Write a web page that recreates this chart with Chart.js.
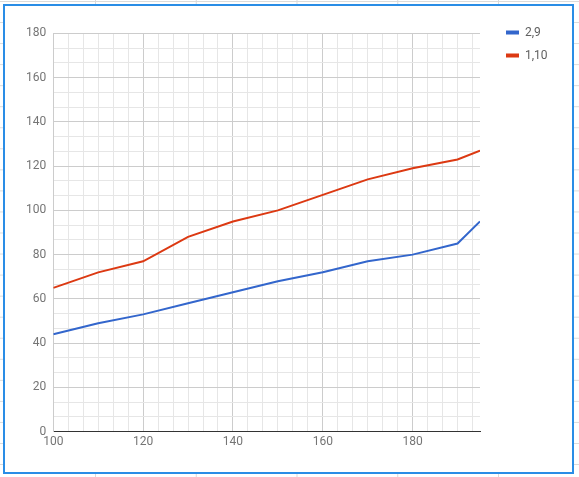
<!DOCTYPE html>
<html><head><meta charset="utf-8">
<script src="https://cdn.jsdelivr.net/npm/chart.js@4.4.1/dist/chart.umd.min.js"></script>
<style>
html,body{margin:0;padding:0;width:579px;height:477px;overflow:hidden;background:#fff;}
#bg{position:absolute;left:0;top:0;width:579px;height:477px;
 background-image:linear-gradient(to right,#dadada 1px,transparent 1px),linear-gradient(to bottom,#dadada 1px,transparent 1px);
 background-size:100.75px 100%,100% 21.05px;background-position:95px 0,0 1px;}
#frame{position:absolute;left:3px;top:4px;width:567px;height:466px;border:2px solid #2a8de6;background:#fff;}
#wrap{position:absolute;left:0;top:0;width:567px;height:466px;}
</style></head>
<body><div id="bg"></div><div id="frame"><div id="wrap"><canvas id="c"></canvas></div></div>
<script>
const xValues = [100,110,120,130,140,150,160,170,180,190,195];
const series29 = [44,49,53,58,63,68,72,77,80,85,95];
const series110 = [65,72,77,88,95,100,107,114,119,123,127];
const seriesNames = ['2,9','1,10'];
const seriesColors = ['#3366cc','#dc3912'];
const xRange = [100,195];
const yRange = [0,180];
const xMajorStep = 20, xMinorPerMajor = 6;
const yMajorStep = 20, yMinorPerMajor = 3;

function buildTicks(min,max,major,per){
  const out=[]; const step=major/per;
  for(let i=0;;i++){const v=min+i*step; if(v>max+1e-9)break; out.push(v);} return out;
}
const xTicks = buildTicks(xRange[0],xRange[1]-0.5,xMajorStep,xMinorPerMajor);
const yTicks = buildTicks(yRange[0],yRange[1],yMajorStep,yMinorPerMajor);
const isMajor=(v,m)=>Math.abs(v/m-Math.round(v/m))<1e-6;
const tickFont={family:'Roboto',size:12};
const tickColor='#757575';
const majorGrid='#cccccc', minorGrid='#e6e6e6';

const fixLegend={id:'fixLegend',beforeLayout(chart){const lg=chart.legend;if(lg&&!lg._fixed){const f=lg.fit;lg.fit=function(){f.call(this);this.width=77;};lg._fixed=true;}}};

new Chart(document.getElementById('c'),{
  type:'line',
  data:{datasets:[
    {label:seriesNames[0],data:xValues.map((x,i)=>({x,y:series29[i]})),borderColor:seriesColors[0],backgroundColor:seriesColors[0],borderWidth:2,pointRadius:0,tension:0},
    {label:seriesNames[1],data:xValues.map((x,i)=>({x,y:series110[i]})),borderColor:seriesColors[1],backgroundColor:seriesColors[1],borderWidth:2,pointRadius:0,tension:0}
  ]},
  options:{
    responsive:true,maintainAspectRatio:false,animation:false,
    layout:{padding:{top:9.5,left:0,right:0,bottom:0}},
    plugins:{
      tooltip:{enabled:false},
      legend:{position:'right',align:'start',
        labels:{boxWidth:13,boxHeight:4,padding:11,color:'#5f5f5f',font:{family:'Roboto',size:12},
          generateLabels:(chart)=>Chart.defaults.plugins.legend.labels.generateLabels(chart).map(l=>Object.assign(l,{lineWidth:0}))}}
    },
    scales:{
      x:{type:'linear',min:xRange[0],max:xRange[1],
        afterBuildTicks:s=>{s.ticks=xTicks.map(v=>({value:v}));},
        afterFit:s=>{s.height=40.3;},
        ticks:{autoSkip:false,maxRotation:0,minRotation:0,padding:3,color:tickColor,font:tickFont,
          callback:v=>isMajor(v,xMajorStep)?String(Math.round(v)):''},
        grid:{drawTicks:false,lineWidth:1,color:c=>(c.tick&&isMajor(c.tick.value,xMajorStep))?majorGrid:minorGrid},
        border:{color:'#333333',width:1}},
      y:{type:'linear',position:'left',min:yRange[0],max:yRange[1],
        afterBuildTicks:s=>{s.ticks=yTicks.map(v=>({value:v}));},
        afterFit:s=>{s.width=48.3;},
        ticks:{autoSkip:false,padding:7,color:tickColor,font:tickFont,
          callback:v=>isMajor(v,yMajorStep)?String(Math.round(v)):''},
        grid:{drawTicks:false,lineWidth:1,color:c=>(c.tick&&isMajor(c.tick.value,yMajorStep))?majorGrid:minorGrid},
        border:{color:majorGrid,width:1}},
      yGap:{type:'linear',position:'right',display:true,grid:{display:false},ticks:{display:false},border:{display:false},afterFit:s=>{s.width=15;}},
      xGap:{type:'linear',position:'top',display:true,grid:{display:false},ticks:{display:false},border:{display:false},afterFit:s=>{s.height=17.8;}}
    }
  },
  plugins:[fixLegend]
});
</script>
</body></html>
